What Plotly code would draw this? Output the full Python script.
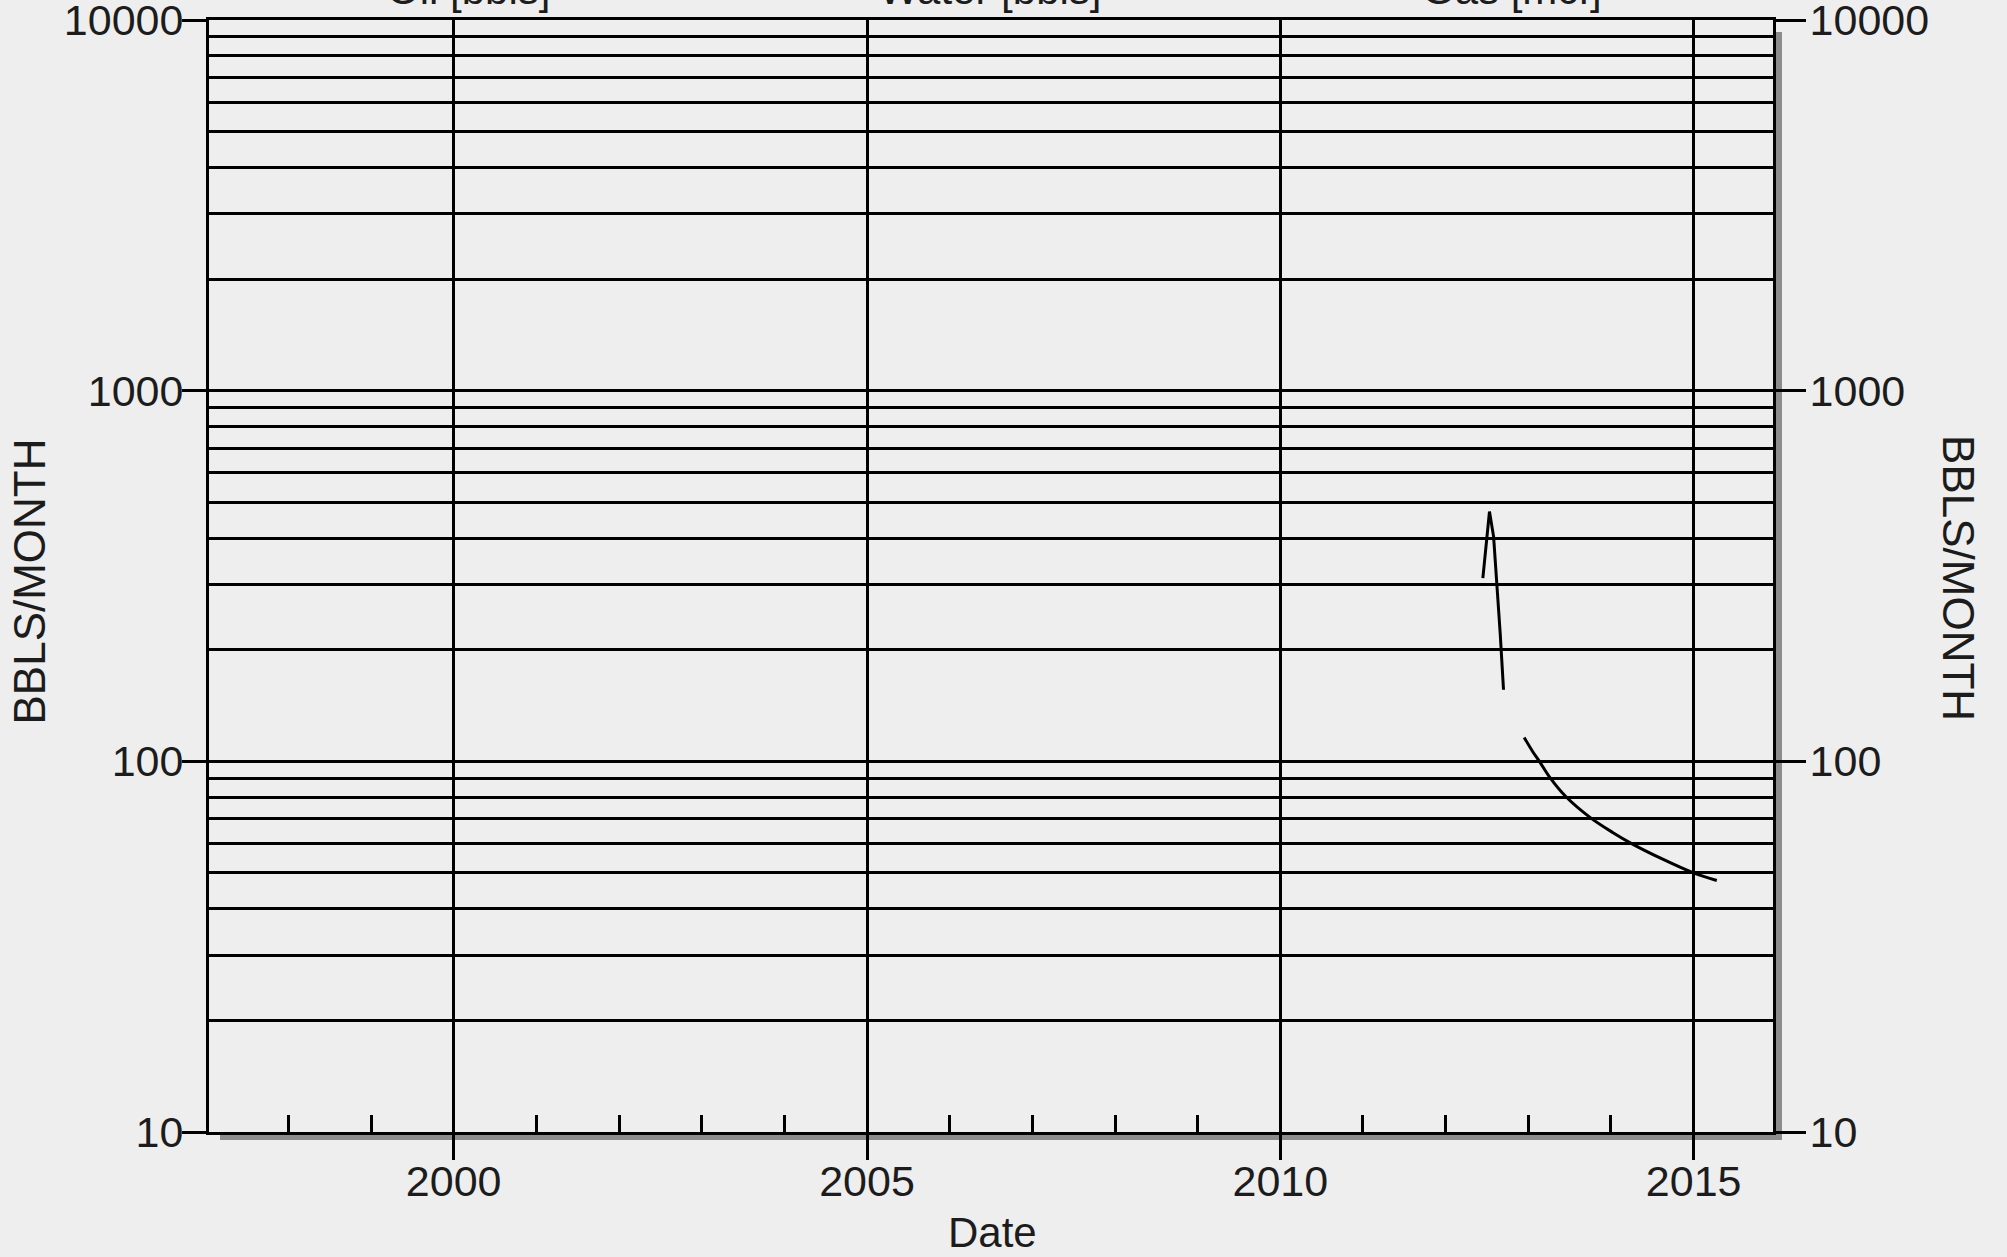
import plotly.graph_objects as go

# ---- data ----
arrow_years = [2012.45, 2012.53, 2012.58, 2012.62, 2012.66, 2012.70]
arrow_vals = [312, 472, 404, 302, 221, 156]

decline_years = [2012.95, 2013.05, 2013.14, 2013.26, 2013.45, 2013.75, 2014.02, 2014.25,
                 2014.60, 2015.00, 2015.28]
decline_vals = [116, 106.5, 99.5, 90.5, 80.5, 70.5, 64.3, 60, 54.8, 50, 47.7]

x_major_ticks = [2000, 2005, 2010, 2015]
x_tick_labels = ["2000", "2005", "2010", "2015"]
y_major_ticks = [10, 100, 1000, 10000]
y_tick_labels = ["10", "100", "1000", "10000"]
y_minor_ticks = [m * d for d in (10, 100, 1000) for m in range(2, 10)]
header_labels = ["Oil [bbls]", "Water [bbls]", "Gas [mcf]"]

BG = "#eeeeee"
INK = "#1c1c1c"
FONT = "Liberation Sans, Arial, sans-serif"

fig = go.Figure()
fig.add_trace(go.Scatter(x=arrow_years, y=arrow_vals, mode="lines",
                         line=dict(color="black", width=3),
                         name="mark", showlegend=False, hoverinfo="x+y"))
fig.add_trace(go.Scatter(x=decline_years, y=decline_vals, mode="lines",
                         line=dict(color="black", width=3, shape="spline", smoothing=1.0),
                         name="decline", showlegend=False, yaxis="y2", hoverinfo="x+y"))

axis_common = dict(showline=True, linecolor="black", linewidth=3, zeroline=False,
                   tickcolor="black", tickwidth=2.5, tickfont=dict(size=43, color=INK, family=FONT),
                   automargin=False, ticklabeloverflow="allow")

fig.update_layout(
    width=2007, height=1257,
    margin=dict(l=209, r=234, t=20, b=125, autoexpand=False),
    paper_bgcolor=BG, plot_bgcolor=BG,
    font=dict(family=FONT, color=INK, size=40),
    showlegend=False,
    xaxis=dict(range=[1997.04, 2015.96], tickmode="array", tickvals=x_major_ticks,
               ticktext=x_tick_labels, ticks="outside", ticklen=25, ticklabelstandoff=-16,
               showgrid=True, gridcolor="black", gridwidth=3, mirror=True,
               minor=dict(tickmode="linear", tick0=1997, dtick=1, ticks="inside",
                          ticklen=17, tickwidth=2.5, tickcolor="black", showgrid=False),
               **axis_common),
    yaxis=dict(type="log", range=[1, 4], tickmode="array", tickvals=y_major_ticks,
               ticktext=y_tick_labels, ticks="outside", ticklen=24, ticklabelstandoff=-10,
               showgrid=True, gridcolor="black", gridwidth=3, mirror=True,
               minor=dict(tickmode="array", tickvals=y_minor_ticks, ticks="",
                          showgrid=True, gridcolor="black", gridwidth=3),
               **axis_common),
    yaxis2=dict(type="log", range=[1, 4], overlaying="y", side="right",
                tickmode="array", tickvals=y_major_ticks, ticktext=y_tick_labels,
                ticks="outside", ticklen=30, ticklabelstandoff=-5, showgrid=False,
                **axis_common),
)

# drop shadow along bottom and right edges of the frame
fig.add_shape(type="rect", layer="below", xref="paper", yref="paper",
              xsizemode="pixel", xanchor=1, x0=1, x1=9,
              ysizemode="pixel", yanchor=0, y0=-8, y1=1100,
              fillcolor="#8c8c8c", line=dict(width=0))
fig.add_shape(type="rect", layer="below", xref="paper", yref="paper",
              xsizemode="pixel", xanchor=0, x0=11, x1=1573,
              ysizemode="pixel", yanchor=0, y0=-8, y1=0,
              fillcolor="#8c8c8c", line=dict(width=0))

# header labels (partly cut off at the top of the page, as in the reference)
for xpos, lab in zip([0.1658, 0.4994, 0.8332], header_labels):
    fig.add_annotation(text=lab, xref="paper", yref="paper", x=xpos, y=1.0275,
                       xanchor="center", yanchor="middle", showarrow=False,
                       font=dict(size=42, color=INK, family=FONT))

# axis titles
fig.add_annotation(text="BBLS/MONTH", xref="paper", yref="paper", x=-0.1154, y=0.4946,
                   textangle=-90, showarrow=False, xanchor="center", yanchor="middle",
                   font=dict(size=44, color=INK, family=FONT))
fig.add_annotation(text="BBLS/MONTH", xref="paper", yref="paper", x=1.1189, y=0.4982,
                   textangle=90, showarrow=False, xanchor="center", yanchor="middle",
                   font=dict(size=44, color=INK, family=FONT))
fig.add_annotation(text="Date", xref="paper", yref="paper", x=0.5007, y=-0.0905,
                   showarrow=False, xanchor="center", yanchor="middle",
                   font=dict(size=42, color=INK, family=FONT))

fig.write_html("out.html", config={"displayModeBar": False},
               post_script="document.body.style.margin='0px';")
